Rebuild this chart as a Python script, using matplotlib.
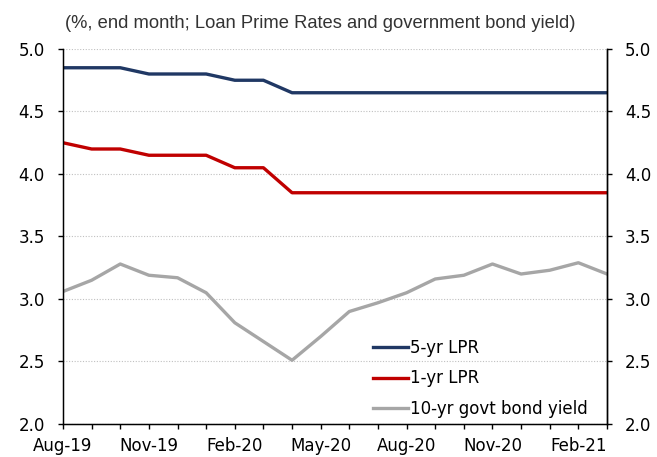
import matplotlib
matplotlib.use("Agg")
import matplotlib.pyplot as plt
from matplotlib.ticker import MultipleLocator, FixedLocator, FormatStrFormatter

months = ["Aug-19", "Sep-19", "Oct-19", "Nov-19", "Dec-19", "Jan-20", "Feb-20", "Mar-20",
          "Apr-20", "May-20", "Jun-20", "Jul-20", "Aug-20", "Sep-20", "Oct-20", "Nov-20",
          "Dec-20", "Jan-21", "Feb-21", "Mar-21"]
lpr5 = [4.85, 4.85, 4.85, 4.80, 4.80, 4.80, 4.75, 4.75, 4.65, 4.65, 4.65, 4.65, 4.65,
        4.65, 4.65, 4.65, 4.65, 4.65, 4.65, 4.65]
lpr1 = [4.25, 4.20, 4.20, 4.15, 4.15, 4.15, 4.05, 4.05, 3.85, 3.85, 3.85, 3.85, 3.85,
        3.85, 3.85, 3.85, 3.85, 3.85, 3.85, 3.85]
bond10 = [3.06, 3.15, 3.28, 3.19, 3.17, 3.05, 2.81, 2.66, 2.51, 2.70, 2.90, 2.97, 3.05,
          3.16, 3.19, 3.28, 3.20, 3.23, 3.29, 3.20]
labels = ["5-yr LPR", "1-yr LPR", "10-yr govt bond yield"]
title = "(%, end month; Loan Prime Rates and government bond yield)"

W, H = 657, 457
fig = plt.figure(figsize=(W / 100, H / 100), dpi=100)
ax = fig.add_axes([63 / W, 1 - 424 / H, (607 - 63) / W, (424 - 49) / H])
x = list(range(len(months)))

ax.plot(x, lpr5, color="#203864", lw=2.4, label=labels[0])
ax.plot(x, lpr1, color="#C00000", lw=2.4, label=labels[1])
ax.plot(x, bond10, color="#A6A6A6", lw=2.4, label=labels[2])

FS = 12
ax.set_xlim(0, len(months) - 1)
ax.set_ylim(2.0, 5.0)
ax.yaxis.set_major_locator(MultipleLocator(0.5))
ax.yaxis.set_major_formatter(FormatStrFormatter("%.1f"))
ax.xaxis.set_major_locator(FixedLocator(x[::3]))
ax.set_xticklabels(months[::3])
ax.xaxis.set_minor_locator(FixedLocator(x))
ax.tick_params(axis="x", which="both", direction="out", length=3.6, width=1, labelsize=FS, pad=5.5)
ax.tick_params(axis="y", direction="out", length=3.6, width=1, labelsize=FS, pad=9.4)
ax.grid(axis="y", color="#C0C0C0", linestyle=(0, (1, 1.5)), lw=0.8)
ax.set_axisbelow(True)
ax.spines["top"].set_visible(False)
for s in ["left", "right", "bottom"]:
    ax.spines[s].set_linewidth(1.0)

ax2 = ax.twinx()
ax2.set_ylim(2.0, 5.0)
ax2.yaxis.set_major_locator(MultipleLocator(0.5))
ax2.yaxis.set_major_formatter(FormatStrFormatter("%.1f"))
ax2.tick_params(axis="y", direction="out", length=3.6, width=1, labelsize=FS, pad=9.4)
ax2.spines["top"].set_visible(False)
ax2.spines["right"].set_linewidth(1.0)

leg = ax.legend(loc="upper left", bbox_to_anchor=(373 / W, 1 - 339 / H),
                bbox_transform=fig.transFigure, frameon=False, fontsize=FS,
                handlelength=2.1, handletextpad=0.15, labelspacing=0.74,
                borderpad=0, borderaxespad=0)

fig.text(65 / W, 1 - 24 / H, title, fontsize=13.2, family="Liberation Sans", color="#333333",
         va="center", ha="left")

fig.savefig("out.png", dpi=100)
